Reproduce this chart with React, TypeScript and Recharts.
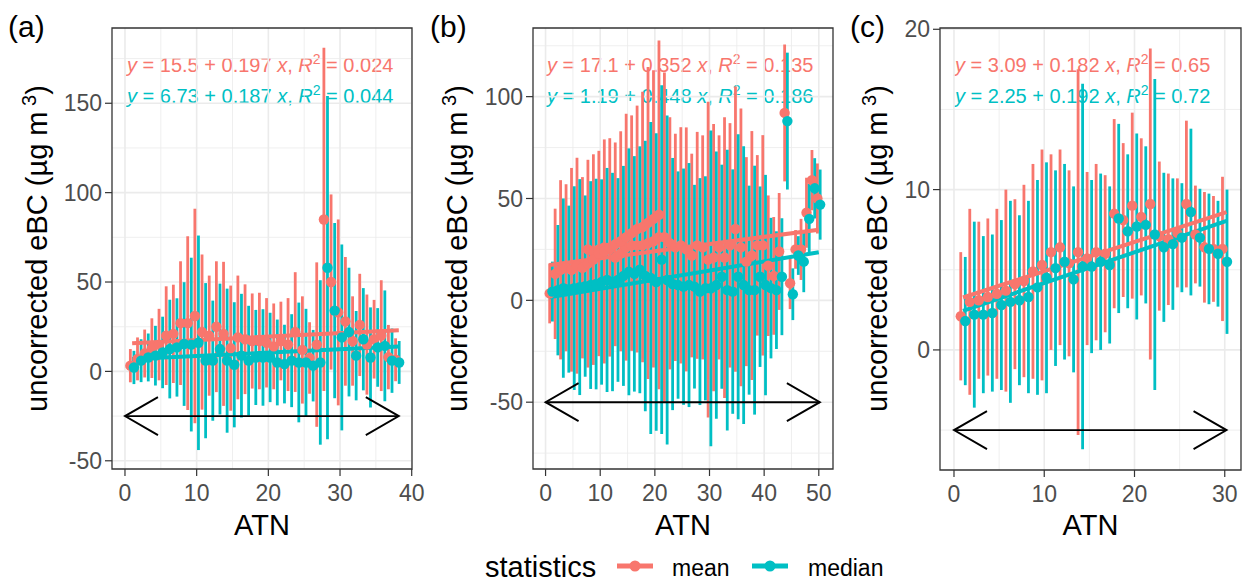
import React from 'react';
import {
  ComposedChart,
  Scatter,
  Line,
  XAxis,
  YAxis,
  CartesianGrid,
  ErrorBar,
  ReferenceLine,
  ReferenceArea,
} from 'recharts';

// ggplot default hue palette for two groups
const RED = '#F8766D';
const CYAN = '#00BFC4';
const FONT = '"Liberation Sans", Arial, Helvetica, sans-serif';
const DODGE = 0.25; // mean bars sit left of the bin, median bars right

// ---- panel (a) ----
const binsA = [1, 2, 3, 4, 5, 6, 7, 8, 9, 10, 11, 12, 13, 14, 15, 16, 17, 18, 19, 20, 21, 22, 23, 24, 25, 26, 27, 28, 29, 30, 31, 32, 33, 34, 35, 36, 37, 38];
const meanA = [3.2, 7, 10, 13, 15, 20, 21, 27, 27, 31, 22, 20, 25, 21, 13, 19, 18, 17, 17, 16, 14, 17, 15, 22, 12, 7.5, 15, 85, 50, 33, 28, 17, 26, 15, 18, 20, 8, 6.5];
const medianA = [2.2, 6, 7.8, 8.8, 10.6, 12.5, 13.4, 15.3, 15, 16, 6, 6, 12.5, 6, 3.7, 8.8, 6, 7.8, 7.8, 7.8, 5, 4.1, 6, 5, 5, 3.2, 5, 58, 34, 19, 22, 8.8, 18, 7.8, 13.4, 14.3, 6, 5];
const sdA = [9.3, 12, 13.4, 16.7, 20, 27.6, 27.5, 34.6, 48.6, 60, 43.4, 33.6, 36.6, 40.3, 35, 34.6, 30.7, 26.6, 27, 25, 24, 22, 26, 33.5, 30, 20, 46, 96, 49, 52, 36, 25, 28.6, 28, 22, 31, 18, 12];
const fitMeanA = [{ x: 1, y: 15.7 }, { x: 38.2, y: 23.0 }];
const fitMedianA = [{ x: 1, y: 6.9 }, { x: 38.2, y: 13.9 }];
const arrowA = [0, 38.2, -25];
const eqA = [['15.5', '0.197', '0.024'], ['6.73', '0.187', '0.044']];

// ---- panel (b) ----
const binsB = [1, 2, 3, 4, 5, 6, 7, 8, 9, 10, 11, 12, 13, 14, 15, 16, 17, 18, 19, 20, 21, 22, 23, 24, 25, 26, 27, 28, 29, 30, 31, 32, 33, 34, 35, 36, 37, 38, 39, 40, 41, 42, 43, 44, 45, 46, 47, 48, 49, 50];
const meanB = [3.4, 13, 15, 16, 15, 17, 16, 18, 20, 23, 24, 26, 27.5, 29, 31, 33, 35, 36, 38, 40, 42, 31, 28, 26, 27, 25, 22, 27, 26, 20, 21, 26, 21, 27, 35, 26, 19, 22, 27, 27, 17, 12, 24, 92, 8.4, 25, 25, 43, 59, 50];
const medianB = [4.3, 5, 6, 5.5, 6, 6.5, 7, 7.5, 8, 9, 10, 9, 10, 12, 14, 13, 15, 12, 11, 9, 20, 10, 8, 7.5, 6.7, 7.5, 6.7, 4.3, 5.9, 5.9, 7.5, 11.6, 5, 4.3, 11.6, 7.5, 5, 5, 11.6, 7.5, 6, 5, 11.6, 88, 3, 22, 19, 40, 55, 47];
const sdB = [14.7, 32, 44, 41, 50, 53, 44.5, 51, 51.7, 50.4, 55, 53.6, 50, 54, 60.6, 57.8, 60.6, 66.4, 76.6, 73, 85.6, 80.8, 61.9, 55.8, 58, 59.9, 50, 55.7, 55, 77.5, 65.6, 55, 68.9, 60, 70, 68.2, 51.3, 61.1, 44.3, 54.1, 34.5, 28.9, 28.7, 33.6, 12.7, 9.5, 15, 17.2, 14.8, 17.2];
// a second, lower run of mean points in the early bins
const binsB2 = [8, 9, 10, 11, 12, 13, 14, 15, 16, 17, 18, 19, 20, 21];
const meanB2 = [25, 24, 25, 26, 25, 21, 23, 26, 27, 27, 27, 28, 29, 31];
const fitMeanB = [{ x: 0.7, y: 17.3 }, { x: 50, y: 34.7 }];
const fitMedianB = [{ x: 0.7, y: 1.5 }, { x: 50, y: 23.6 }];
const arrowB = [0, 50.2, -50];
const eqB = [['17.1', '0.352', '0.135'], ['1.19', '0.448', '0.186']];

// ---- panel (c) ----
const binsC = [1, 2, 3, 4, 5, 6, 7, 8, 9, 10, 11, 12, 13, 14, 15, 16, 17, 18, 19, 20, 21, 22, 23, 24, 25, 26, 27, 28, 29, 30];
const meanC = [2.1, 3.0, 3.1, 3.3, 3.5, 3.7, 4.1, 4.3, 4.9, 5.3, 6.1, 6.4, 5.4, 6.1, 5.7, 6.1, 6.0, 8.5, 8.1, 9.0, 8.3, 9.1, 7.1, 6.9, 7.3, 9.1, 7.2, 6.4, 6.3, 6.3];
const medianC = [1.8, 2.2, 2.2, 2.3, 2.8, 3.0, 3.1, 3.3, 3.9, 4.5, 5.1, 5.5, 4.4, 5.2, 5.2, 5.5, 5.3, 8.2, 7.4, 7.7, 7.8, 7.2, 6.4, 6.6, 7.0, 8.6, 7.0, 6.3, 6.0, 5.5];
const sdC = [4.0, 5.8, 4.9, 4.9, 5.3, 6.3, 5.3, 6.0, 6.7, 7.2, 6.1, 6.1, 5.8, 11.4, 5.4, 5.5, 4.9, 5.9, 4.8, 5.8, 4.9, 9.7, 4.65, 4.1, 3.4, 5.2, 3.05, 3.45, 3.3, 4.5];
const fitMeanC = [{ x: 1, y: 3.27 }, { x: 30.2, y: 8.59 }];
const fitMedianC = [{ x: 1, y: 2.44 }, { x: 30.2, y: 8.05 }];
const arrowC = [0, 30.2, -5];
const eqC = [['3.09', '0.182', '0.65'], ['2.25', '0.192', '0.72']];

const noDot = () => <g />;
const dot = (fill: string) => (p: any) => <circle cx={p.cx} cy={p.cy} r={5.2} fill={fill} />;

// double-headed open arrow drawn from the reference segment's pixel ends
const ArrowShape = (p: any) => {
  const { x1, y1, x2, y2 } = p;
  return (
    <g stroke="#000" strokeWidth={1.9} fill="none">
      <line x1={x1} y1={y1} x2={x2} y2={y2} />
      <polyline points={`${x1 + 33},${y1 - 19} ${x1},${y1} ${x1 + 33},${y1 + 19}`} />
      <polyline points={`${x2 - 33},${y2 - 19} ${x2},${y2} ${x2 - 33},${y2 + 19}`} />
    </g>
  );
};

interface PanelProps {
  left: number;
  width: number;
  right: number;
  yAxisWidth: number;
  bottom: number;
  xDomain: [number, number];
  yDomain: [number, number];
  xTicks: number[];
  yTicks: number[];
  xMinor: number[];
  yMinor: number[];
  bins: number[];
  mean: number[];
  median: number[];
  sd: number[];
  fitMean: { x: number; y: number }[];
  fitMedian: { x: number; y: number }[];
  arrow: number[];
  extraBins?: number[];
  extraMean?: number[];
}

const tickStyle = { fill: '#4D4D4D', fontSize: 23, fontFamily: FONT };

function Panel(p: PanelProps) {
  const meanRows = p.bins.map((b, i) => ({ x: b - DODGE, y: p.mean[i], err: p.sd[i] }));
  const medianRows = p.bins.map((b, i) => ({ x: b + DODGE, y: p.median[i], err: p.sd[i] }));
  const extraRows = (p.extraBins || []).map((b, i) => ({ x: b - DODGE, y: p.extraMean![i] }));
  return (
    <div style={{ position: 'absolute', left: p.left, top: 0 }}>
      <ComposedChart width={p.width} height={540} margin={{ top: 28, right: p.right, bottom: p.bottom, left: 0 }}>
        <CartesianGrid horizontalValues={p.yMinor} verticalValues={p.xMinor} stroke="#EBEBEB" strokeWidth={0.8} />
        <CartesianGrid horizontalValues={p.yTicks} verticalValues={p.xTicks} stroke="#EBEBEB" strokeWidth={1.6} />
        <XAxis
          type="number"
          dataKey="x"
          domain={p.xDomain}
          ticks={p.xTicks}
          interval={0}
          allowDataOverflow
          axisLine={false}
          tickLine={{ stroke: '#333333', strokeWidth: 1.2 }}
          tickSize={7}
          tickMargin={9}
          tick={tickStyle}
          height={60}
        />
        <YAxis
          type="number"
          dataKey="y"
          domain={p.yDomain}
          ticks={p.yTicks}
          interval={0}
          allowDataOverflow
          axisLine={false}
          tickLine={{ stroke: '#333333', strokeWidth: 1.2 }}
          tickSize={7}
          tickMargin={3}
          tick={tickStyle}
          width={p.yAxisWidth}
        />
        <Scatter data={meanRows} shape={noDot} isAnimationActive={false}>
          <ErrorBar dataKey="err" direction="y" width={0} stroke={RED} strokeWidth={2.8} isAnimationActive={false} />
        </Scatter>
        <Scatter data={medianRows} shape={noDot} isAnimationActive={false}>
          <ErrorBar dataKey="err" direction="y" width={0} stroke={CYAN} strokeWidth={2.8} isAnimationActive={false} />
        </Scatter>
        <Scatter data={extraRows} shape={dot(RED)} isAnimationActive={false} />
        <Scatter data={meanRows} shape={dot(RED)} isAnimationActive={false} />
        <Scatter data={medianRows} shape={dot(CYAN)} isAnimationActive={false} />
        <Line data={p.fitMean} dataKey="y" type="linear" stroke={RED} strokeWidth={4} dot={false} isAnimationActive={false} />
        <Line data={p.fitMedian} dataKey="y" type="linear" stroke={CYAN} strokeWidth={4} dot={false} isAnimationActive={false} />
        <ReferenceArea
          x1={p.xDomain[0]}
          x2={p.xDomain[1]}
          y1={p.yDomain[0]}
          y2={p.yDomain[1]}
          fill="none"
          stroke="#333333"
          strokeWidth={1.3}
          ifOverflow="visible"
        />
        <ReferenceLine
          segment={[{ x: p.arrow[0], y: p.arrow[2] }, { x: p.arrow[1], y: p.arrow[2] }]}
          shape={ArrowShape}
          ifOverflow="visible"
        />
      </ComposedChart>
    </div>
  );
}

function Equation({ x, y, color, parts }: { x: number; y: number; color: string; parts: string[] }) {
  return (
    <text x={x} y={y} fill={color} fontSize={20} fontFamily={FONT}>
      <tspan fontStyle="italic">y</tspan> = {parts[0]} + {parts[1]} <tspan fontStyle="italic">x</tspan>,{' '}
      <tspan fontStyle="italic">R</tspan>
      <tspan dy={-8} fontSize={14}>2</tspan>
      <tspan dy={8}> = {parts[2]}</tspan>
    </text>
  );
}

function YTitle({ x }: { x: number }) {
  return (
    <text
      x={x}
      y={248.5}
      transform={`rotate(-90 ${x} 248.5)`}
      textAnchor="middle"
      fontSize={29}
      fontFamily={FONT}
      fill="#000"
    >
      uncorrected eBC (µg m<tspan dy={-11} fontSize={20}> 3</tspan>
      <tspan dy={11}>)</tspan>
    </text>
  );
}

export default function App() {
  return (
    <div style={{ position: 'absolute', left: 0, top: 0, width: 1245, height: 583, background: '#fff', fontFamily: FONT }}>
      <svg width={1245} height={583} style={{ position: 'absolute', left: 0, top: 0 }}>
        <text x={8} y={37} fontSize={30} fontFamily={FONT}>(a)</text>
        <text x={430} y={37} fontSize={30} fontFamily={FONT}>(b)</text>
        <text x={850} y={37} fontSize={30} fontFamily={FONT}>(c)</text>

        <YTitle x={47} />
        <YTitle x={467} />
        <YTitle x={887} />

        <text x={262} y={535} textAnchor="middle" fontSize={29} fontFamily={FONT}>ATN</text>
        <text x={683} y={535} textAnchor="middle" fontSize={29} fontFamily={FONT}>ATN</text>
        <text x={1090.5} y={535} textAnchor="middle" fontSize={29} fontFamily={FONT}>ATN</text>

        <Equation x={127} y={72} color={RED} parts={eqA[0]} />
        <Equation x={127} y={103} color={CYAN} parts={eqA[1]} />
        <Equation x={547} y={72} color={RED} parts={eqB[0]} />
        <Equation x={547} y={103} color={CYAN} parts={eqB[1]} />
        <Equation x={955} y={72} color={RED} parts={eqC[0]} />
        <Equation x={955} y={103} color={CYAN} parts={eqC[1]} />

        {/* legend */}
        <text x={485} y={577} fontSize={29} fontFamily={FONT}>statistics</text>
        <line x1={617} y1={566} x2={653} y2={566} stroke={RED} strokeWidth={5} />
        <circle cx={635} cy={566} r={5.5} fill={RED} />
        <text x={672} y={576} fontSize={23} fontFamily={FONT}>mean</text>
        <line x1={752} y1={566} x2={788} y2={566} stroke={CYAN} strokeWidth={5} />
        <circle cx={770} cy={566} r={5.5} fill={CYAN} />
        <text x={808} y={576} fontSize={23} fontFamily={FONT}>median</text>
      </svg>

      <Panel
        left={0}
        width={430}
        right={18}
        yAxisWidth={112}
        bottom={11}
        xDomain={[-1.81, 40.04]}
        yDomain={[-54.6, 192.1]}
        xTicks={[0, 10, 20, 30, 40]}
        yTicks={[-50, 0, 50, 100, 150]}
        xMinor={[5, 15, 25, 35]}
        yMinor={[-25, 25, 75, 125, 175]}
        bins={binsA}
        mean={meanA}
        median={medianA}
        sd={sdA}
        fitMean={fitMeanA}
        fitMedian={fitMedianA}
        arrow={arrowA}
      />
      <Panel
        left={420}
        width={430}
        right={17}
        yAxisWidth={113}
        bottom={11}
        xDomain={[-2.3, 52.6]}
        yDomain={[-82.8, 133.7]}
        xTicks={[0, 10, 20, 30, 40, 50]}
        yTicks={[-50, 0, 50, 100]}
        xMinor={[5, 15, 25, 35, 45]}
        yMinor={[-75, -25, 25, 75, 125]}
        bins={binsB}
        mean={meanB}
        median={medianB}
        sd={sdB}
        fitMean={fitMeanB}
        fitMedian={fitMedianB}
        arrow={arrowB}
        extraBins={binsB2}
        extraMean={meanB2}
      />
      <Panel
        left={840}
        width={405}
        right={4}
        yAxisWidth={100}
        bottom={10}
        xDomain={[-1.55, 31.8]}
        yDomain={[-7.49, 20.08]}
        xTicks={[0, 10, 20, 30]}
        yTicks={[0, 10, 20]}
        xMinor={[5, 15, 25]}
        yMinor={[-5, 5, 15]}
        bins={binsC}
        mean={meanC}
        median={medianC}
        sd={sdC}
        fitMean={fitMeanC}
        fitMedian={fitMedianC}
        arrow={arrowC}
      />
    </div>
  );
}
